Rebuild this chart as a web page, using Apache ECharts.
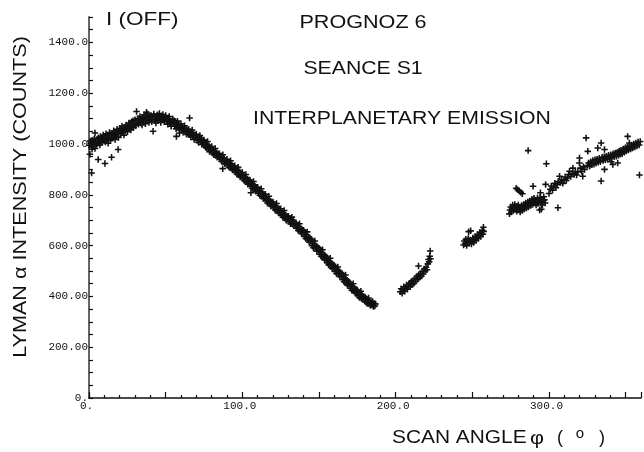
<!DOCTYPE html>
<html>
<head>
<meta charset="utf-8">
<script src="https://cdn.jsdelivr.net/npm/echarts@6/dist/echarts.min.js"></script>
<style>
html, body { margin: 0; padding: 0; background: #fff; }
#chart { width: 644px; height: 452px; }
</style>
</head>
<body>
<div id="chart"></div>
<script>
// Lyman-alpha intensity (counts) against scan angle psi, Prognoz 6, session S1.
// Each entry is [scan angle in degrees, counts].

// First sweep, 0 to ~187 degrees
const segment1 = [
  [0.3,995],[0.8,1012],[1.2,1003],[1.6,988],[2.1,1015],[2.5,1005],[3.0,992],[3.4,1020],[3.9,1043],[4.3,1008],[4.8,998],
  [5.3,1018],[5.7,1002],[6.2,1025],[6.6,1010],[7.1,996],[7.5,1030],[8.0,1015],[8.4,1006],[8.9,1022],[9.3,1035],[9.8,1012],
  [10.2,1028],[10.7,1008],[11.1,1040],[11.6,1019],[12.0,1032],[12.5,1003],[12.9,1025],[13.4,1045],[13.8,1016],[14.3,1036],[14.7,1022],
  [15.2,1040],[15.6,1024],[16.1,1052],[16.5,1035],[17.0,1018],[17.4,1046],[17.9,1030],[18.3,1058],[18.8,1041],[19.2,1026],[19.7,1050],
  [20.1,1062],[20.6,1040],[21.0,1055],[21.5,1070],[21.9,1047],[22.4,1060],[22.8,1035],[23.3,1066],[23.7,1052],[24.2,1075],[24.6,1058],
  [25.1,1048],[25.5,1070],[26.0,1083],[26.4,1062],[26.9,1076],[27.3,1055],[27.8,1088],[28.2,1070],[28.7,1092],[29.1,1065],[29.6,1080],
  [30.0,1095],[30.5,1072],[31.0,1128],[31.4,1085],[31.9,1100],[32.3,1078],[32.8,1092],[33.2,1108],[33.7,1083],[34.1,1098],[34.6,1075],
  [35.0,1105],[35.5,1090],[35.9,1115],[36.4,1096],[36.8,1080],[37.3,1108],[37.5,1125],[37.7,1093],[38.2,1118],[38.6,1100],[39.1,1085],[39.5,1110],
  [40.0,1097],[40.5,1112],[40.9,1088],[41.4,1105],[41.8,1050],[42.3,1118],[42.7,1095],[43.2,1108],[43.6,1083],[44.1,1100],[44.6,1115],
  [45.0,1092],[45.5,1106],[45.9,1120],[46.4,1098],[46.8,1085],[47.3,1110],[47.7,1095],[48.2,1116],[48.6,1100],[49.1,1088],[49.5,1105],
  [50.0,1112],[50.5,1090],[50.9,1100],[51.4,1078],[51.8,1095],[52.3,1108],[52.7,1082],[53.2,1092],[53.6,1070],[54.1,1088],[54.6,1098],
  [55.0,1080],[55.5,1092],[55.9,1070],[56.4,1085],[56.8,1060],[57.0,1030],[57.3,1078],[57.7,1090],[58.2,1066],[58.6,1075],[59.0,1043],[59.1,1055],[59.5,1070],
  [60.0,1080],[60.5,1058],[60.9,1068],[61.4,1046],[61.8,1062],[62.3,1072],[62.7,1050],[63.2,1060],[63.6,1038],[64.1,1055],[64.6,1044],
  [65.0,1058],[65.5,1036],[65.6,1102],[65.9,1048],[66.4,1028],[66.8,1042],[67.3,1055],[67.7,1030],[68.2,1040],[68.6,1018],[69.1,1035],[69.5,1024],
  [70.0,1038],[70.5,1015],[70.9,1028],[71.4,1006],[71.8,1020],[72.3,1033],[72.7,1010],[73.2,1022],[73.6,998],[74.1,1014],[74.6,1002],
  [75.0,1016],[75.5,992],[75.9,1005],[76.4,985],[76.8,998],[77.3,1010],[77.7,980],[78.2,992],[78.6,970],[79.1,986],[79.5,975],
  [80.0,990],[80.5,965],[80.9,978],[81.4,958],[81.8,970],[82.3,982],[82.7,955],[83.2,966],[83.6,948],[84.1,962],[84.6,950],
  [85.0,962],[85.5,940],[85.9,952],[86.4,932],[86.8,946],[87.2,903],[87.3,958],[87.7,930],[88.2,942],[88.6,922],[89.1,936],[89.5,926],
  [90.0,940],[90.5,915],[90.9,928],[91.4,908],[91.8,922],[92.3,934],[92.7,905],[93.2,918],[93.6,898],[94.1,912],[94.6,900],
  [95.0,914],[95.5,890],[95.9,902],[96.4,882],[96.8,896],[97.3,908],[97.7,878],[98.2,890],[98.6,870],[99.1,886],[99.5,874],
  [100.0,888],[100.5,862],[100.9,876],[101.4,855],[101.8,868],[102.3,880],[102.7,850],[103.2,862],[103.6,842],[104.1,858],[104.6,846],
  [105.0,858],[105.5,834],[105.6,808],[105.9,846],[106.4,826],[106.8,840],[107.3,852],[107.7,822],[108.2,834],[108.6,814],[109.1,830],[109.5,818],
  [110.0,830],[110.5,806],[110.9,818],[111.4,798],[111.8,812],[112.3,824],[112.7,794],[113.2,806],[113.6,786],[114.1,802],[114.6,790],
  [115.0,802],[115.5,776],[115.9,790],[116.4,768],[116.8,782],[117.3,794],[117.7,764],[118.2,776],[118.6,756],[119.1,772],[119.5,760],
  [120.0,772],[120.5,748],[120.9,760],[121.4,740],[121.8,754],[122.3,766],[122.7,736],[123.2,748],[123.6,728],[124.1,744],[124.6,732],
  [125.0,745],[125.5,720],[125.9,732],[126.4,712],[126.8,726],[127.3,738],[127.7,708],[128.2,720],[128.6,700],[129.1,716],[129.5,704],
  [130.0,716],[130.5,694],[130.9,706],[131.4,686],[131.8,700],[132.3,712],[132.7,684],[133.2,696],[133.6,678],[134.1,692],[134.6,682],
  [135.0,690],[135.5,668],[135.9,680],[136.4,660],[136.8,674],[137.3,686],[137.7,656],[138.2,666],[138.6,648],[139.1,662],[139.5,650],
  [140.0,660],[140.5,636],[140.9,650],[141.4,628],[141.8,642],[142.3,654],[142.7,622],[143.2,634],[143.6,614],[144.1,630],[144.6,618],
  [145.0,625],[145.5,600],[145.9,614],[146.4,592],[146.8,606],[147.3,618],[147.7,588],[148.2,598],[148.6,578],[149.1,594],[149.5,582],
  [150.0,590],[150.5,566],[150.9,578],[151.4,558],[151.8,572],[152.3,584],[152.7,552],[153.2,564],[153.6,544],[154.1,560],[154.6,548],
  [155.0,555],[155.5,532],[155.9,544],[156.4,524],[156.8,538],[157.3,550],[157.7,518],[158.2,530],[158.6,510],[159.1,526],[159.5,514],
  [160.0,522],[160.5,498],[160.9,510],[161.4,490],[161.8,504],[162.3,516],[162.7,486],[163.2,498],[163.6,478],[164.1,494],[164.6,482],
  [165.0,490],[165.5,466],[165.9,478],[166.4,458],[166.8,472],[167.3,484],[167.7,452],[168.2,464],[168.6,444],[169.1,460],[169.5,448],
  [170.0,455],[170.5,432],[170.9,444],[171.4,424],[171.8,438],[172.3,450],[172.7,420],[173.2,432],[173.6,414],[174.1,428],[174.6,418],
  [175.0,425],[175.5,402],[175.9,414],[176.4,396],[176.8,408],[177.3,420],[177.7,392],[178.2,404],[178.6,388],[179.1,400],[179.5,390],
  [180.0,398],[180.5,378],[180.9,390],[181.4,372],[181.8,384],[182.3,394],[182.7,370],[183.2,380],[183.6,364],[184.1,376],[184.6,366],
  [185.0,380],[185.5,360],[186.0,372],[186.4,362],[186.9,370]
];

// Scattered low readings near the start of the first sweep
const segment1Low = [
  [0.6,960],[1.7,886],[2.0,979],[3.9,982],[6.0,939],[10.4,923],[14.7,948],[19.0,978]
];

// Second stretch, 203 to 223 degrees
const segment2 = [
  [203.0,418],[203.6,430],[204.2,412],[204.8,425],[205.3,438],[205.9,420],[206.5,432],[207.1,445],[207.7,428],[208.3,440],
  [208.9,452],[209.5,438],[210.1,458],[210.7,446],[211.3,462],[211.9,452],[212.5,470],[213.1,460],[213.7,478],[214.3,468],
  [214.9,520],[215.0,485],[215.6,474],[216.2,490],[216.8,480],[217.4,498],[218.0,488],[218.6,508],[219.2,500],[219.8,515],
  [220.4,505],[221.0,528],[221.4,545],[221.8,536],[222.2,558],[222.5,579],[222.7,548]
];

// Third stretch, 244 to 258 degrees
const segment3 = [
  [244.3,602],[244.8,618],[245.3,608],[245.8,625],[246.3,600],[246.8,614],[247.3,628],[247.6,655],[248.1,610],[248.6,622],
  [248.9,658],[249.4,606],[249.9,618],[250.4,630],[250.9,612],[251.4,624],[251.9,636],[252.4,620],[252.9,632],[253.4,644],
  [253.9,628],[254.4,640],[254.9,652],[255.4,636],[255.9,648],[256.4,660],[256.9,645],[257.2,672],[257.4,656]
];

// Fourth stretch, 274 degrees to the end of the scan
const segment4 = [
  [274.2,725],[274.6,740],[275.0,752],[275.4,732],[275.9,745],[276.3,760],[276.8,738],[277.2,750],[277.7,762],[278.1,742],
  [278.5,755],[279.0,735],[279.4,748],[279.9,760],[280.3,740],[280.8,752],[281.2,732],[281.7,745],[282.1,758],[282.6,738],
  [283.0,750],[283.5,762],[283.9,744],[284.4,756],[284.8,768],[285.3,748],[285.7,760],[286.2,772],[286.6,752],[287.1,765],
  [287.5,776],[288.0,758],[288.4,770],[288.9,782],[289.3,762],[289.8,775],[290.2,786],[290.7,768],[291.1,780],[291.6,760],
  [292.0,774],[292.5,788],[292.9,766],[293.4,778],[293.9,740],[294.3,790],[294.8,770],[295.2,782],[295.7,760],[296.1,774],
  [296.6,792],[297.0,780],[297.5,768],
  [278.6,826],[279.6,820],[280.6,815],[281.6,810],[282.6,804],
  [286.4,974],[289.6,834],[297.8,841],[294.4,808],[295.0,743],[305.8,749],[298.3,922],
  [300.0,805],[300.8,822],[301.5,835],[302.3,818],[303.0,830],[303.8,845],[304.5,828],[305.3,840],[306.0,852],[306.9,873],
  [307.5,848],[308.2,860],[309.0,845],[309.8,858],[310.5,870],[311.3,856],[312.1,866],[312.8,880],[313.4,893],[314.2,872],
  [315.0,884],[315.6,905],[316.4,880],[317.2,892],[318.0,878],[318.8,890],[319.8,925],[319.9,945],[320.5,905],[321.3,892],
  [322.0,873],[322.4,910],[323.2,900],
  [324.2,1024],[325.0,915],[325.3,971],[325.8,925],[326.5,912],[327.2,930],[327.9,918],[328.6,935],[329.3,920],[330.0,938],
  [330.7,924],[331.4,940],[331.8,984],[332.1,928],[332.8,944],[333.5,930],[334.0,1004],[334.0,854],[334.6,948],[335.3,935],
  [336.0,950],[336.2,978],[336.2,900],[336.7,938],[337.4,952],[338.1,940],[338.8,956],[339.5,944],[340.2,958],[340.5,930],
  [341.0,946],[341.6,919],[341.8,962],[342.5,950],[343.2,965],[343.9,952],[344.6,968],[344.8,925],[345.3,956],[345.8,972],
  [346.4,960],[347.0,975],[347.7,962],[348.4,980],[349.1,968],[349.8,985],[350.4,972],[351.1,988],[351.3,1030],[351.8,976],
  [352.4,1004],[352.5,992],[353.2,980],[353.9,996],[354.6,984],[355.3,1000],[356.0,988],[356.7,1004],[357.4,992],[358.1,1008],
  [358.8,996],[359.0,878],[359.5,1010]
];

// Axis tick labels as printed by the plotter
const xTickLabels = ['0.', '100.0', '200.0', '300.0'];
const yTickLabels = ['0.', '200.00', '400.00', '600.00', '800.00', '1000.0', '1200.0', '1400.0'];

const INK = '#111';
const PLUS = 'path://M3.8,0H6.2V3.8H10V6.2H6.2V10H3.8V6.2H0V3.8H3.8Z';
const TITLE_FONT = '18px "Liberation Sans", Arial, sans-serif';
const TICK_FONT = '"Liberation Mono", monospace';

const chart = echarts.init(document.getElementById('chart'), null, { renderer: 'canvas' });

chart.setOption({
  animation: false,
  backgroundColor: '#fff',
  grid: { left: 89, top: 17, width: 556.5, height: 381, containLabel: false },
  xAxis: {
    type: 'value',
    min: 0,
    max: 360,
    interval: 50,
    axisLine: { show: true, onZero: false, lineStyle: { color: INK, width: 1.5 } },
    axisTick: { show: true, inside: true, length: 6, lineStyle: { color: INK, width: 1.2 } },
    minorTick: { show: true, splitNumber: 5, length: 3, lineStyle: { color: INK, width: 1.2 } },
    splitLine: { show: false },
    axisLabel: {
      margin: 3,
      padding: [0, 5, 0, 0],
      fontFamily: TICK_FONT,
      fontSize: 11,
      color: INK,
      formatter: v => (v % 100 === 0 && xTickLabels[v / 100] !== undefined) ? xTickLabels[v / 100] : ''
    }
  },
  yAxis: {
    type: 'value',
    min: 0,
    max: 1500,
    interval: 50,
    axisLine: { show: true, onZero: false, lineStyle: { color: '#666', width: 2 } },
    axisTick: { show: true, inside: true, length: 4, lineStyle: { color: INK, width: 1.2 } },
    splitLine: { show: false },
    axisLabel: {
      margin: 1,
      fontFamily: TICK_FONT,
      fontSize: 11,
      color: INK,
      formatter: v => (v % 200 === 0 && yTickLabels[v / 200] !== undefined) ? yTickLabels[v / 200] : ''
    }
  },
  series: [{
    type: 'scatter',
    data: [].concat(segment1, segment1Low, segment2, segment3, segment4),
    symbol: PLUS,
    symbolSize: 6.5,
    itemStyle: { color: INK, opacity: 1 },
    emphasis: { disabled: true }
  }],
  graphic: [
    { type: 'text', x: 106, y: 20, scaleX: 1.25,
      style: { text: 'I (OFF)', font: TITLE_FONT, fill: INK, align: 'left', verticalAlign: 'middle' } },
    { type: 'text', x: 363, y: 23, scaleX: 1.2,
      style: { text: 'PROGNOZ 6', font: TITLE_FONT, fill: INK, align: 'center', verticalAlign: 'middle' } },
    { type: 'text', x: 363, y: 69, scaleX: 1.18,
      style: { text: 'SEANCE S1', font: TITLE_FONT, fill: INK, align: 'center', verticalAlign: 'middle' } },
    { type: 'text', x: 402, y: 119, scaleX: 1.18,
      style: { text: 'INTERPLANETARY EMISSION', font: TITLE_FONT, fill: INK, align: 'center', verticalAlign: 'middle' } },
    { type: 'text', x: 21, y: 197, rotation: Math.PI / 2, scaleX: 1.2,
      style: { text: 'LYMAN α INTENSITY (COUNTS)', font: TITLE_FONT, fill: INK, align: 'center', verticalAlign: 'middle' } },
    { type: 'text', x: 392, y: 438, scaleX: 1.16,
      style: { text: 'SCAN ANGLE', font: TITLE_FONT, fill: INK, align: 'left', verticalAlign: 'middle' } },
    { type: 'text', x: 537, y: 439, scaleX: 1.2,
      style: { text: 'φ', font: TITLE_FONT, fill: INK, align: 'center', verticalAlign: 'middle' } },
    { type: 'text', x: 560, y: 438,
      style: { text: '(', font: TITLE_FONT, fill: INK, align: 'center', verticalAlign: 'middle' } },
    { type: 'text', x: 580, y: 434,
      style: { text: 'o', font: '15px "Liberation Sans", Arial, sans-serif', fill: INK, align: 'center', verticalAlign: 'middle' } },
    { type: 'text', x: 602, y: 438,
      style: { text: ')', font: TITLE_FONT, fill: INK, align: 'center', verticalAlign: 'middle' } }
  ]
});
</script>
</body>
</html>
